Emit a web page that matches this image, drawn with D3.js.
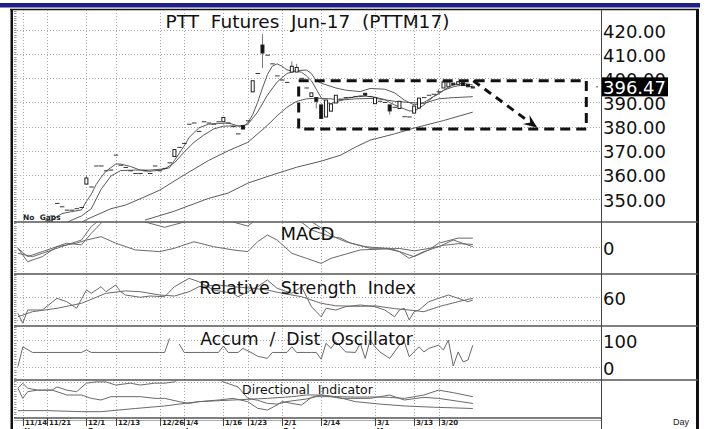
<!DOCTYPE html>
<html>
<head>
<meta charset="utf-8">
<script src="https://cdn.jsdelivr.net/npm/d3@7/dist/d3.min.js"></script>
<style>
  body { margin: 0; background: #fff; overflow: hidden; }
  text { font-family: "DejaVu Sans", sans-serif; }
</style>
</head>
<body>
<div class="chart"></div>
<script>
// ---- data ----
const days = ["11/10","11/11","11/14","11/15","11/16","11/17","11/18","11/21","11/22","11/23","11/24","11/25",
  "11/28","11/29","11/30","12/1","12/2","12/6","12/7","12/8","12/9","12/13","12/14","12/15","12/16",
  "12/19","12/20","12/21","12/22","12/23","12/26","12/27","12/28","12/29","12/30","1/4","1/5","1/6",
  "1/9","1/10","1/11","1/12","1/13","1/16","1/17","1/18","1/19","1/20","1/23","1/24","1/25","1/26","1/27",
  "1/30","1/31","2/1","2/2","2/3","2/6","2/7","2/8","2/9","2/10","2/14","2/15","2/16","2/17",
  "2/20","2/21","2/22","2/23","2/24","2/27","2/28","3/1","3/2","3/3","3/6","3/7","3/8","3/9","3/10",
  "3/13","3/14","3/15","3/16","3/17","3/20","3/21","3/22","3/23","3/24","3/27","3/28","3/29"];

const tickDays = ["11/14","11/21","12/1","12/13","12/26","1/4","1/16","1/23","2/1","2/14","3/1","3/13","3/20"];
const monthTicks = [["11/14","Nov"],["12/1","Dec"],["1/4","Jan"],["2/1","Feb"],["3/1","Mar"]];

const closes = [333,334,336,337,338,339,340,341,343,348.2,
  346.8,345.4,345.4,346,346.5,358.7,355,363.7,363.7,361.7,
  362,368.2,364,363.1,361.7,360.6,360.6,361.7,360.6,363.7,
  361.7,362.7,365,370.5,371.4,373,381,381.5,378,382,
  381.5,381,382,383.8,381.5,380,377,379,382.4,399,
  402,410.5,409.6,406,401,399.3,398.3,405,404.5,400,
  396,394,390.5,383.4,391,389.4,393,391.4,392,392.1,
  392.5,392.7,393,392.5,392,390.5,390,386.5,388,390.5,
  384.1,384,388.5,391.8,392,393,393.4,394.4,398.5,398.5,
  397.3,398.6,397,396.5,396.47];
const opens = [333,334,336,337,338,339,340,341,343,348.2,
  346.8,345.4,345.4,346,346.5,356.2,355,363.7,363.7,361.7,
  362,368.2,364,363.1,361.7,360.6,360.6,361.7,360.6,363.7,
  361.7,362.7,365,367.6,371.4,373,381,381.5,378,382,
  381.5,381,382,382,381.5,380,377,380.5,382.4,394.4,
  402,413.8,409.6,406,401,399.3,398.3,402.6,402.6,400,
  396,392.5,392,389,384,386.4,389.8,391.4,392,392.1,
  392.5,392.7,393.8,392.5,389.5,390.5,390,389,388,387.5,
  384.1,384,385.6,387.7,392,393,393.4,394.4,396,396.5,
  398,397.5,398.2,397.5,396];
const highs = [[15,360],[51,418.3],[57,407],[58,406],[87,395.5]];
const lows = [[51,404.3],[62,387.5],[77,385],[87,393.5]];

// moving averages, [day index, price]
const ma1 = [[6,339],[8,341.5],[10,344],[12,344.8],[14,345.5],[15,349],[16,352],[17,356],[18,359],[19,361.5],
  [21,364.5],[22,364.5],[24,363.5],[26,362],[28,361.5],[30,362],[32,363],[33,366],[34,369],[35,372],[36,375.5],
  [38,379.5],[40,381],[42,381.3],[44,381.5],[46,380.3],[47,380],[48,381.5],[49,385],[50,390],[51,396],[52,401.5],
  [53,405],[54,406],[55,405],[56,403.5],[57,403],[58,403],[59,402.5],[60,401],[61,399],[62,395.5],[63,392],
  [64,390],[65,389.5],[66,390.3],[67,390.8],[68,391.7],[70,392.3],[72,392.6],[74,392.2],[76,391.2],[77,390],
  [78,389],[80,387.3],[81,386.5],[82,386.5],[83,387.6],[84,389],[85,390.7],[86,392.5],[87,393.5],[88,395],
  [89,396.3],[90,397.3],[91,397.8],[92,397.9],[93,397.6],[94,397.2]];
const ma2 = [[10,339],[12,341.3],[14,343],[16,346],[18,354],[20,359.5],[22,361.8],[25,362],[28,362],[31,362.5],
  [33,365],[35,369.5],[37,373.5],[39,376.5],[41,379],[43,380.2],[45,380.3],[47,380.3],[48,381],[50,386],[52,393],
  [54,398.5],[56,402],[58,403.2],[60,403.4],[61,402],[62,399],[63,398],[66,396],[68,395.1],[71,394.5],[73,395.8],
  [76,395.5],[78,394],[80,391],[82,389],[84,390],[86,392.5],[88,395],[90,396.5],[92,397.3],[94,396.5]];
const ma3 = [[12,338],[15,341.5],[20,346],[23,347.5],[27,351],[30,353.7],[35,360],[40,366],[44,370],[48,373.5],
  [50,377],[52,380.5],[54,384.5],[56,388],[58,390.5],[60,391.5],[62,391.8],[65,391.5],[67,391],[70,391.5],
  [74,391.7],[78,390.5],[81,390],[84,389.6],[87,391.5],[90,392],[94,392.4]];
const ma4 = [[27,341.3],[33,345],[40,350.3],[44,352.5],[48,356.6],[53,360],[58,363.2],[63,365.7],[67,368.2],
  [70,371.5],[73,374.4],[78,377],[82,379.4],[88,382.5],[94,386]];

const macdLine = [[1,-0.4],[3,-3.9],[6,-1.8],[11,1.7],[14,1],[16,5.8],[18,10],[20,15],[25,13],[27,10.5],[31,8.3],
  [35,10.5],[37,14],[43,14],[45,10.5],[48,8.8],[50,12],[53,18],[58,12],[61,7.2],[65,4.4],[67,3.8],[69,1.7],
  [73,-0.4],[77,-0.4],[80,-2.5],[82,-3.9],[85,-1.1],[87,1.7],[91,3.8],[94,3.8]];
const macdSignal = [[1,-2.5],[4,-3.9],[8,-1.1],[11,1],[14,3],[16,8.6],[20,15],[60,12],[63,8],[66,4],[68,2.3],
  [72,0.25],[76,-0.4],[79,-1.8],[81,-4.6],[84,-1.8],[87,0.25],[90,3],[94,0.25]];
const macdOsc = [[1,-0.4],[3,-6],[6,-3.9],[9,0.25],[13,1.7],[15,3],[18,4.4],[21,1.7],[25,-1.1],[30,-1.8],
  [33,-0.4],[37,2.3],[41,0.25],[45,-1.1],[48,-1.8],[50,2.3],[52,5.1],[54,3],[57,-2.5],[60,-4.6],[63,-6.7],
  [65,-4.6],[71,-1.1],[75,-0.8],[79,-0.5],[82,-1.5],[85,-0.5],[88,0.8],[91,1.5],[94,1.2]];

const rsi = [[1,45.9],[2,37.1],[3,48.8],[6,48.8],[9,59.1],[11,56.1],[13,50.3],[15,66.4],[16,63.5],[18,69.3],
  [19,64.9],[21,70.8],[22,64.9],[23,62],[26,60],[28,61.1],[31,60.5],[33,69.3],[36,76.7],[38,73.7],[41,66.4],
  [45,63.5],[46,60.5],[48,64.9],[50,69.3],[52,75.2],[54,67.9],[57,63.5],[59,69.3],[61,51.7],[63,42.9],[64,50.3],
  [66,48.8],[68,51.7],[71,53.2],[74,51.7],[76,48.8],[78,42.9],[79,48.8],[80,50.3],[81,40],[82,47.3],[83,48.8],
  [85,56.1],[87,59.1],[89,62],[91,59.1],[93,56.1],[94,57.6]];
const rsiAvg = [[1,42.9],[4,47.3],[9,50.3],[14,54.7],[19,63.5],[23,65.6],[26,64.9],[30,62],[33,61.1],[36,64.9],
  [38,69.3],[42,70.8],[45,69.3],[49,67.9],[52,66.4],[55,63.5],[59,60.5],[63,54.7],[66,52.5],[71,52],[74,52.5],
  [78,50],[81,48.8],[84,47.3],[87,51.7],[91,56.1],[94,59.1]];

const adOsc = [[1,1],[2,75],[4,54],[14,54],[15,63],[16,54],[30,54],[31,54],[32,106],[33,null],[34,85],[35,54],
  [42,54],[43,78],[44,54],[46,54],[47,69],[49,51],[50,40],[52,32],[53,54],[56,54],[57,75],[58,54],[61,54],[62,54],
  [63,29],[64,88],[65,69],[66,94],[67,75],[68,56],[70,54],[71,88],[72,32],[73,100],[74,75],[75,56],[77,32],
  [79,81],[80,94],[81,38],[83,75],[84,56],[85,69],[87,81],[88,63],[89,100],[90,4],[91,56],[92,19],[93,26],[94,81]];

const diPlus = [[1,47],[2,55],[3,47],[5,44],[8,44],[9,49],[11,44],[13,41.5],[15,55],[17,57],[19,57],[21,52],
  [24,55],[26,52],[29,55],[31,55],[33,57],[35,68],[41,68],[43,57],[46,49],[48,31],[50,28],[52,23],[54,22],[56,26],
  [58,28],[60,30],[62,33.7],[66,33.7],[70,33],[74,33.2],[77,32.6],[80,31],[84,36.3],[87,44],[90,40],[94,33.7]];
const diMinus = [[1,47],[2,31],[3,41.5],[5,44],[8,44],[10,39],[11,36.3],[14,36.3],[16,31],[18,28.4],[20,33.7],
  [26,33.7],[29,31],[31,31],[34,25.8],[36,23],[38,25.8],[42,28.4],[45,31],[48,25.8],[50,15.3],[52,12.6],[54,20.5],
  [55,25.8],[57,23],[59,20.5],[61,32.6],[63,36.3],[65,33.7],[67,31],[73,31],[77,36.3],[80,28.4],[84,32.6],
  [87,31],[94,23]];
const adx = [[1,11.6],[7,11.6],[14,10],[18,10],[25,15],[31,19],[35,23],[38,25.8],[45,28.4],[52,31],[57,33.7],
  [60,36.3],[63,36.3],[66,33.7],[70,25.8],[75,22],[80,19],[86,17],[90,16],[94,15]];

const priceTicks = [420,410,400,390,380,370,360,350];
const lastPrice = 396.47;
const zoneDays = [58.4, 117.2], zonePrices = [399, 379];
const arrowDays = [94.1, 107.2], arrowPrices = [399, 379.5];

// ---- layout ----
const W = 712, H = 429;
const plotL = 14, plotR = 601, frameR = 698;
const P = { main: [10, 222], macd: [222, 274], rsi: [274, 326], ad: [326, 380], di: [380, 418] };
const nb = s => s.replace(/ /g, "\u00A0");

const svg = d3.select(".chart").append("svg").attr("width", W).attr("height", H);

const x = d3.scaleLinear().domain([0, 120]).range([13, 600]);
const yP = d3.scaleLinear().domain([340.5, 428.3]).range([P.main[1], P.main[0]]);
const yM = d3.scaleLinear().domain([-11.1, 10.5]).range([P.macd[1], P.macd[0]]);
const yR = d3.scaleLinear().domain([34.7, 80.5]).range([P.rsi[1], P.rsi[0]]);
const yA = d3.scaleLinear().domain([-48, 152]).range([P.ad[1], P.ad[0]]);
const yD = d3.scaleLinear().domain([0, 60]).range([P.di[1], P.di[0]]);

// clips
const defs = svg.append("defs");
Object.entries(P).forEach(([k, r]) => {
  defs.append("clipPath").attr("id", "clip-" + k)
    .append("rect").attr("x", plotL).attr("y", r[0]).attr("width", plotR - plotL).attr("height", r[1] - r[0]);
});

// top blue bar and frame
svg.append("rect").attr("x", 0).attr("y", 3).attr("width", 700).attr("height", 4.5).attr("fill", "#1f1f8a");
svg.append("line").attr("x1", 10).attr("x2", 699).attr("y1", 9.5).attr("y2", 9.5).attr("stroke", "#111").attr("stroke-width", 1.5);
svg.append("rect").attr("x", 10.5).attr("y", 9).attr("width", 2.5).attr("height", H).attr("fill", "#111");
svg.append("rect").attr("x", 696).attr("y", 9).attr("width", 3).attr("height", H).attr("fill", "#111");

// grid
const grid = svg.append("g").attr("stroke", "#a8a8a8").attr("stroke-dasharray", "1,2").attr("stroke-width", 1);
tickDays.forEach(t => {
  const xi = Math.round(x(days.indexOf(t))) + 0.5;
  grid.append("line").attr("x1", xi).attr("x2", xi).attr("y1", P.main[0]).attr("y2", P.di[1]);
});
const hGrid = (scale, vals) => vals.forEach(v => {
  const yy = Math.round(scale(v)) + 0.5;
  grid.append("line").attr("x1", plotL).attr("x2", plotR).attr("y1", yy).attr("y2", yy);
});
hGrid(yP, priceTicks); hGrid(yM, [0]); hGrid(yR, [60, 40]); hGrid(yA, [100, 0]); hGrid(yD, [57]);

// left minor ticks
const minor = svg.append("g").attr("stroke", "#999");
const minorTicks = (scale, vals) => vals.forEach(v => {
  const yy = Math.round(scale(v)) + 0.5;
  minor.append("line").attr("x1", 14).attr("x2", 16.5).attr("y1", yy).attr("y2", yy);
});
minorTicks(yP, d3.range(341, 429, 1));
minorTicks(yM, d3.range(-11, 11, 1));
minorTicks(yR, d3.range(36, 81, 2));
minorTicks(yA, d3.range(-40, 151, 10));
minorTicks(yD, d3.range(2, 60, 4));

// panel separators
const sep = svg.append("g").attr("stroke", "#555").attr("stroke-width", 1.5);
[P.macd[0], P.rsi[0], P.ad[0], P.di[0]].forEach(yy => {
  sep.append("line").attr("x1", plotL).attr("x2", frameR).attr("y1", yy).attr("y2", yy);
});
sep.append("line").attr("x1", plotL).attr("x2", plotR).attr("y1", P.di[1]).attr("y2", P.di[1]);
svg.append("line").attr("x1", plotL).attr("x2", plotR).attr("y1", P.di[1] + 2.5).attr("y2", P.di[1] + 2.5).attr("stroke", "#aaa");
svg.append("line").attr("x1", plotR + 0.5).attr("x2", plotR + 0.5).attr("y1", 10).attr("y2", H).attr("stroke", "#444");

// line helper
function drawLine(panel, scale, data, color) {
  const line = d3.line().defined(d => d[1] != null).x(d => x(d[0])).y(d => scale(d[1]));
  svg.append("path").datum(data).attr("clip-path", "url(#clip-" + panel + ")")
    .attr("d", line).attr("fill", "none").attr("stroke", color).attr("stroke-width", 1);
}

// moving averages
[ma4, ma3, ma2, ma1].forEach(s => drawLine("main", yP, s, "#5a5a5a"));

// candles
const cg = svg.append("g").attr("clip-path", "url(#clip-main)");
const hi = new Map(highs), lo = new Map(lows);
closes.forEach((c, i) => {
  const o = opens[i], xi = x(i);
  const top = Math.max(o, c), bot = Math.min(o, c);
  const h = hi.has(i) ? hi.get(i) : top, l = lo.has(i) ? lo.get(i) : bot;
  if (h > top || l < bot) {
    cg.append("line").attr("x1", xi).attr("x2", xi).attr("y1", yP(h)).attr("y2", yP(l))
      .attr("stroke", "#777").attr("stroke-width", 1);
  }
  if (o === c) {
    cg.append("line").attr("x1", xi - 2).attr("x2", xi + 2.5).attr("y1", yP(c)).attr("y2", yP(c))
      .attr("stroke", "#333").attr("stroke-width", 1);
  } else {
    cg.append("rect").attr("x", xi - 1.5).attr("y", yP(top)).attr("width", 3)
      .attr("height", Math.max(1, yP(bot) - yP(top)))
      .attr("fill", c > o ? "#fff" : "#111").attr("stroke", "#222").attr("stroke-width", 1);
  }
});

// indicators
drawLine("macd", yM, macdOsc, "#6a6a6a");
drawLine("macd", yM, macdSignal, "#6a6a6a");
drawLine("macd", yM, macdLine, "#6a6a6a");
drawLine("rsi", yR, rsiAvg, "#6a6a6a");
drawLine("rsi", yR, rsi, "#6a6a6a");
drawLine("ad", yA, adOsc, "#6a6a6a");
drawLine("di", yD, adx, "#6a6a6a");
drawLine("di", yD, diMinus, "#6a6a6a");
drawLine("di", yD, diPlus, "#6a6a6a");

// annotation: dashed box and arrow
const ann = svg.append("g").attr("fill", "none").attr("stroke", "#111").attr("stroke-width", 3);
ann.append("rect")
  .attr("x", x(zoneDays[0])).attr("y", yP(zonePrices[0]))
  .attr("width", x(zoneDays[1]) - x(zoneDays[0])).attr("height", yP(zonePrices[1]) - yP(zonePrices[0]))
  .attr("stroke-dasharray", "10,6");
const ax0 = x(arrowDays[0]), ay0 = yP(arrowPrices[0]), ax1 = x(arrowDays[1]), ay1 = yP(arrowPrices[1]);
const ang = Math.atan2(ay1 - ay0, ax1 - ax0);
const headLen = 15;
ann.append("line").attr("x1", ax0).attr("y1", ay0)
  .attr("x2", ax1 - headLen * Math.cos(ang)).attr("y2", ay1 - headLen * Math.sin(ang))
  .attr("stroke-dasharray", "8,6");
const head = [[ax1, ay1],
  [ax1 - headLen * Math.cos(ang - 0.38), ay1 - headLen * Math.sin(ang - 0.38)],
  [ax1 - headLen * 0.6 * Math.cos(ang), ay1 - headLen * 0.6 * Math.sin(ang)],
  [ax1 - headLen * Math.cos(ang + 0.38), ay1 - headLen * Math.sin(ang + 0.38)]];
svg.append("path").attr("d", d3.line()(head) + "Z").attr("fill", "#111");

// titles
const tg = svg.append("g").attr("text-anchor", "middle").attr("fill", "#111");
const cx = (plotL + plotR) / 2;
tg.append("text").attr("x", cx).attr("y", 28).attr("font-size", 18.5).text(nb("PTT  Futures  Jun-17  (PTTM17)"));
tg.append("text").attr("x", cx).attr("y", 240).attr("font-size", 18).text("MACD");
tg.append("text").attr("x", cx).attr("y", 293.5).attr("font-size", 17.5).text(nb("Relative  Strength  Index"));
tg.append("text").attr("x", cx - 1).attr("y", 345).attr("font-size", 17.3).text(nb("Accum  /  Dist  Oscillator"));
tg.append("text").attr("x", cx).attr("y", 394).attr("font-size", 12.5).text(nb("Directional  Indicator"));

svg.append("text").attr("x", 23).attr("y", 220).attr("font-size", 7.5).attr("font-weight", "bold")
  .attr("fill", "#222").text(nb("No  Gaps"));

// right-hand value labels
const rg = svg.append("g").attr("font-size", 18).attr("fill", "#111");
const fmt = d3.format(".2f");
priceTicks.forEach(v => rg.append("text").attr("x", 603).attr("y", yP(v) + 7.5).text(fmt(v)));
rg.append("text").attr("x", 603).attr("y", yM(0) + 7.5).text("0");
rg.append("text").attr("x", 603).attr("y", yR(60) + 7.5).text("60");
rg.append("text").attr("x", 603).attr("y", yA(100) + 7.5).text("100");
rg.append("text").attr("x", 603).attr("y", yA(0) + 7.5).text("0");

const ly = yP(lastPrice);
svg.append("rect").attr("x", 602).attr("y", ly - 9.5).attr("width", 66).attr("height", 19).attr("fill", "#000");
svg.append("text").attr("x", 603).attr("y", ly + 7.5).attr("font-size", 18).attr("fill", "#fff").text(fmt(lastPrice));
svg.append("line").attr("x1", 596).attr("x2", 598).attr("y1", ly).attr("y2", ly).attr("stroke", "#555");

// date axis
const dg = svg.append("g").attr("font-size", 7).attr("font-weight", "bold").attr("fill", "#222");
tickDays.forEach(t => {
  const xi = Math.round(x(days.indexOf(t))) + 0.5;
  dg.append("line").attr("x1", xi).attr("x2", xi).attr("y1", P.di[1]).attr("y2", 426).attr("stroke", "#444");
  dg.append("text").attr("x", xi + 1.5).attr("y", 425).text(t);
});
monthTicks.forEach(([t, m]) => {
  dg.append("text").attr("x", x(days.indexOf(t)) + 1.5).attr("y", 433).text(m);
});
svg.append("text").attr("x", 673).attr("y", 425).attr("font-size", 9).attr("fill", "#222")
  .style("font-family", "Liberation Sans, sans-serif").text("Day");
</script>
</body>
</html>
